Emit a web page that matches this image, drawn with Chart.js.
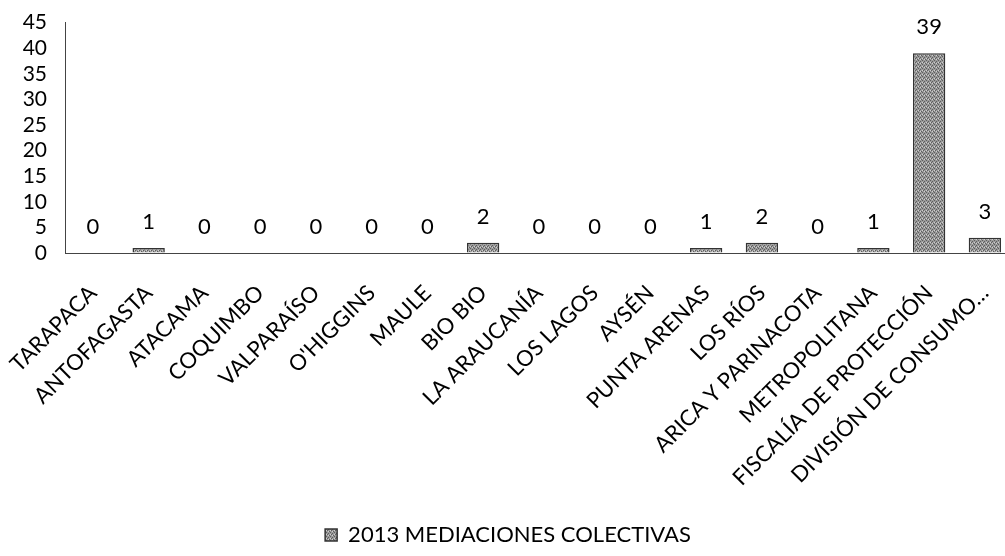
<!DOCTYPE html>
<html>
<head>
<meta charset="utf-8">
<script src="https://cdn.jsdelivr.net/npm/chart.js@4/dist/chart.umd.min.js"></script>
<style>
  html, body { margin: 0; padding: 0; background: #fff; overflow: hidden; }
  /* the original plot is cropped a little at the top and right */
  #chart { display: block; margin-top: -8px; margin-left: -14px; }
</style>
</head>
<body>
<canvas id="chart" width="1044" height="564"></canvas>
<script>
const regiones = ['TARAPACA', 'ANTOFAGASTA', 'ATACAMA', 'COQUIMBO', 'VALPARAÍSO', "O'HIGGINS", 'MAULE', 'BIO BIO',
    'LA ARAUCANÍA', 'LOS LAGOS', 'AYSÉN', 'PUNTA ARENAS', 'LOS RÍOS', 'ARICA Y PARINACOTA', 'METROPOLITANA',
    'FISCALÍA DE PROTECCIÓN', 'DIVISIÓN DE CONSUMO…'];
const mediaciones2013 = [0, 1, 0, 0, 0, 0, 0, 2, 0, 0, 0, 1, 2, 0, 1, 39, 3];
const serieNombre = '2013 MEDIACIONES COLECTIVAS';
const yTicks = [0, 5, 10, 15, 20, 25, 30, 35, 40, 45];

const FONT = 'Lato, "Open Sans", sans-serif';

// speckled grey fill, like the scanned hatch
function makePattern() {
    const c = document.createElement('canvas');
    c.width = 4; c.height = 4;
    const g = c.getContext('2d');
    g.fillStyle = '#9a9a9a';
    g.fillRect(0, 0, 4, 4);
    g.fillStyle = '#5e5e5e';
    g.fillRect(0, 0, 1, 1);
    g.fillRect(2, 1, 1, 1);
    g.fillRect(1, 2, 1, 1);
    g.fillRect(3, 3, 1, 1);
    g.fillStyle = '#cfcfcf';
    g.fillRect(2, 3, 1, 1);
    g.fillRect(0, 2, 1, 1);
    return g.createPattern(c, 'repeat');
}

const valueLabels = {
    id: 'valueLabels',
    afterDatasetsDraw(chart) {
        const ctx = chart.ctx;
        const meta = chart.getDatasetMeta(0);
        ctx.save();
        ctx.font = '22px ' + FONT;
        ctx.fillStyle = '#000';
        ctx.textAlign = 'center';
        ctx.textBaseline = 'bottom';
        meta.data.forEach((bar, i) => {
            ctx.fillText(String(mediaciones2013[i]), bar.x, bar.y - 15);
        });
        ctx.restore();
    }
};

const fill = makePattern();

new Chart(document.getElementById('chart'), {
    type: 'bar',
    data: {
        labels: regiones,
        datasets: [{
            label: serieNombre,
            data: mediaciones2013,
            backgroundColor: fill,
            borderColor: '#333',
            borderWidth: 1.5,
            barPercentage: 0.58,
            categoryPercentage: 1
        }]
    },
    options: {
        responsive: false,
        animation: false,
        layout: { padding: { top: 0, right: 0, left: 0, bottom: 0 } },
        plugins: {
            legend: {
                position: 'bottom',
                labels: {
                    color: '#000',
                    font: { family: FONT, size: 22 },
                    boxWidth: 12,
                    boxHeight: 12,
                    padding: 4
                }
            },
            tooltip: { enabled: false }
        },
        scales: {
            x: {
                grid: { display: true, drawOnChartArea: false, drawTicks: false },
                border: { display: true, color: '#444', width: 1, dash: [3, 2] },
                ticks: {
                    color: '#000',
                    font: { family: FONT, size: 22 },
                    minRotation: 45,
                    maxRotation: 45,
                    autoSkip: false,
                    padding: 27
                },
                // a bit of extra room under the labels, as in the original
                afterFit: scale => { scale.height += 2; }
            },
            y: {
                min: 0,
                max: 45,
                afterBuildTicks: axis => { axis.ticks = yTicks.map(v => ({ value: v })); },
                grid: { display: true, drawOnChartArea: false, drawTicks: false },
                border: { display: true, color: '#444', width: 1, dash: [3, 2] },
                ticks: {
                    color: '#000',
                    font: { family: FONT, size: 21 },
                    padding: 18,
                    autoSkip: false
                }
            }
        }
    },
    plugins: [valueLabels]
});
</script>
</body>
</html>
